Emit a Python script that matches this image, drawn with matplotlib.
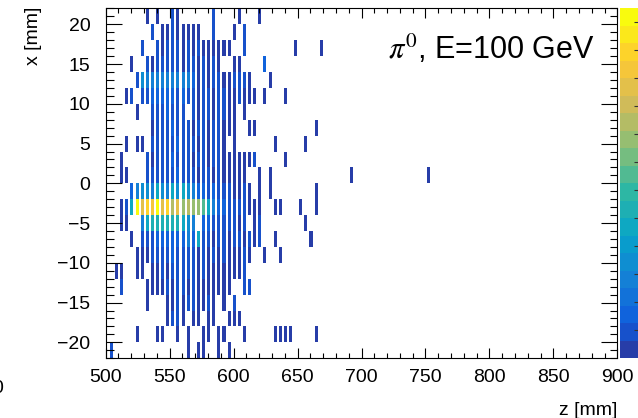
import matplotlib.pyplot as plt
import numpy as np
from matplotlib.colors import LinearSegmentedColormap, ListedColormap, BoundaryNorm
from matplotlib.ticker import MultipleLocator

plt.rcParams['font.family'] = ['Liberation Sans', 'DejaVu Sans']
plt.rcParams['mathtext.fontset'] = 'stix'

# energy deposit per (layer, x bin); one char per layer, base 36, '.' = empty
# rows go from x = 20..22 mm (top) down to x = -22..-20 mm
x_edges = np.arange(-22, 23, 2)
hits = [
    ".......1.1" "..21......" "2....1...1" "............",
    "........2." "11211111.." "2...1.2..." "............",
    "......2..2" "1222121211" "1111..2..." "......1....1",
    "....1..212" "2222122121" "21..11...." "3...........",
    ".....27555" "5555553121" "22112221.." ".1..........",
    "...12.2233" "3332322122" "122112111." "1...1.......",
    ".....1..22" "23222.2122" "12211.1..." "............",
    "........12" "2232221221" "22111..11." "..........1.",
    "...1.11.22" "2223222121" "221.1....." "..1.....1...",
    "..1....212" "2232221221" "221111112." "....1.......",
    "..11...222" "2223222122" "1211111..1" ".1..........",
    "....357759" "7597975332" "32221121.1" ".1........1.",
    "..129ojmlo" "jmhjghffd9" "5332222111" "..11...1..1.",
    "..11..59bb" "bbbb975.33" "2222212.12" "........1...",
    "....1.2223" "3333353922" "1221221212" "..1......1..",
    ".....11122" "2232222121" "21211121.." "1..1........",
    ".11..11.11" "2122222121" "1111112..." "............",
    "..2....111" "1212212111" "1111..22.." "............",
    ".......1.." ".112122112" "1.1.2....." "............",
    ".........." ".1221.11.1" "1..111...." "............",
    ".....1...1" "1..1.1..11" ".11...1..." "..1111....1.",
    "2........." ".....1.11." ".1.1......" "............",
]
# two lonely hits far behind the shower
stray_layers = [47, 62]
stray_rows = [10, 10]
stray_vals = [1, 1]

n_layers = 63
z_first = 504.5   # z of layer 0 [mm]
z_pitch = 4.0
z_width = 2.4

grid = np.zeros((len(hits), n_layers))
for r, row in enumerate(hits):
    for k, c in enumerate(row):
        if c != '.':
            grid[r, k] = int(c, 36)
for k, r, v in zip(stray_layers, stray_rows, stray_vals):
    grid[r, k] = v
grid = grid[::-1]

centres = z_first + z_pitch * np.arange(n_layers)
z_edges = np.column_stack([centres - z_width / 2, centres + z_width / 2]).ravel()
vals = np.full((grid.shape[0], 2 * n_layers - 1), np.nan)
vals[:, ::2] = grid
vals = np.ma.masked_where(~(vals > 0), vals)

# ROOT kBird palette, 20 contour levels
bird_r = [0.2082, 0.0592, 0.0780, 0.0232, 0.1802, 0.5301, 0.8186, 0.9956, 0.9764]
bird_g = [0.1664, 0.3599, 0.5041, 0.6419, 0.7178, 0.7492, 0.7328, 0.7862, 0.9832]
bird_b = [0.5293, 0.8684, 0.8385, 0.7914, 0.6425, 0.4662, 0.3499, 0.1968, 0.0539]
bird = LinearSegmentedColormap.from_list(
    'bird', list(zip(np.linspace(0, 1, 9), zip(bird_r, bird_g, bird_b))))
levels = np.linspace(0, 25, 21)
cmap = ListedColormap(bird((np.arange(20) + 0.99) / 20))
norm = BoundaryNorm(levels, 20)

W, H = 638, 418
fig = plt.figure(figsize=(W / 100, H / 100), dpi=100)
ax = fig.add_axes([105.7 / W, 1 - 358.2 / H, (617.3 - 105.7) / W, (358.2 - 8.4) / H])
mesh = ax.pcolormesh(z_edges, x_edges, vals, cmap=cmap, norm=norm,
                     antialiased=False, edgecolors='none')

ax.set_xlim(500, 900)
ax.set_ylim(-22, 22)
ax.xaxis.set_major_locator(MultipleLocator(50))
ax.xaxis.set_minor_locator(MultipleLocator(10))
ax.yaxis.set_major_locator(MultipleLocator(5))
ax.yaxis.set_minor_locator(MultipleLocator(1))
ax.tick_params(which='both', direction='in', top=True, right=True, width=0.8,
               labelsize=14)
ax.tick_params(axis='x', which='major', length=7.2, pad=7.5)
ax.tick_params(axis='x', which='minor', length=3.6)
ax.tick_params(axis='y', which='major', length=11.5, pad=11)
ax.tick_params(axis='y', which='minor', length=5.4)
for s in ax.spines.values():
    s.set_linewidth(0.8)

fig.text(34 / W, 1 - 7 / H, 'x [mm]', rotation=90, ha='center', va='top', fontsize=14)
fig.text(617 / W, 1 - 415 / H, 'z [mm]', ha='right', va='baseline', fontsize=14)
fig.text(595 / W, 1 - 59.3 / H, r'$\pi^{0}$, E=100 GeV', ha='right', va='baseline',
         fontsize=22)
fig.text(3 / W, 1 - 393 / H, '0', ha='right', va='baseline', fontsize=14)

# palette on the right, cut by the picture edge
cax = fig.add_axes([619.5 / W, 1 - 358.2 / H, 19.5 / W, (358.2 - 8.4) / H])
cb = fig.colorbar(mesh, cax=cax, ticks=np.arange(2, 25, 2))
cb.outline.set_visible(False)
cax.tick_params(direction='in', length=3.6, width=0.8, color='#333333',
                labelright=False)

fig.savefig('out.png', dpi=100)
